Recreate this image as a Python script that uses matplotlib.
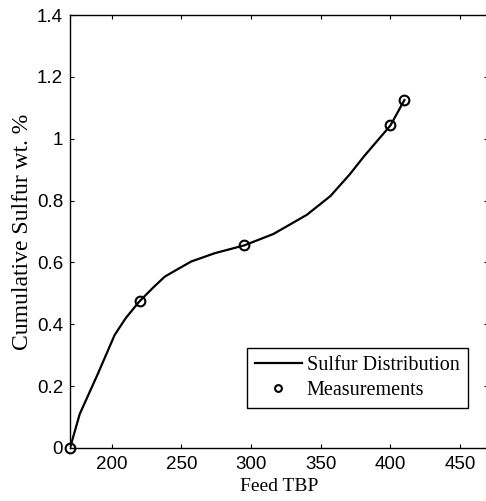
import numpy as np
import matplotlib.pyplot as plt

# sulfur distribution curve
curve_tbp = [170, 177, 190, 202, 210, 220, 230, 238, 248, 257, 274, 295, 316, 340, 357, 371, 381, 400, 410]
curve_sulfur = [0.0, 0.11, 0.24, 0.365, 0.42, 0.475, 0.52, 0.554, 0.58, 0.603, 0.63, 0.655, 0.692, 0.754, 0.815, 0.886, 0.943, 1.043, 1.125]

# measured points
meas_tbp = [170, 220, 295, 400, 410]
meas_sulfur = [0.0, 0.475, 0.655, 1.043, 1.125]

xticks = [200, 250, 300, 350, 400, 450]
yticks = [0, 0.2, 0.4, 0.6, 0.8, 1, 1.2, 1.4]
yticklabels = ['0', '0.2', '0.4', '0.6', '0.8', '1', '1.2', '1.4']

W, H = 486, 501
fig = plt.figure(figsize=(W / 100, H / 100), dpi=100)
ax = fig.add_axes([70 / W, 1 - 448 / H, 418 / W, 433 / H])

ax.plot(curve_tbp, curve_sulfur, color='black', lw=1.6, label='Sulfur Distribution')
ax.plot(meas_tbp, meas_sulfur, linestyle='none', marker='o', ms=7, mfc='none',
        mec='black', mew=1.5, label='Measurements', clip_on=False)

ax.set_xlim(170, 470)
ax.set_ylim(0, 1.4)
ax.set_xticks(xticks)
ax.set_yticks(yticks)
ax.set_yticklabels(yticklabels)
ax.tick_params(direction='in', length=3, width=0.8, top=True, right=True,
               labelsize=13.5)
ax.tick_params(axis='x', pad=5.5)
ax.tick_params(axis='y', pad=5)
for lab in ax.get_xticklabels() + ax.get_yticklabels():
    lab.set_family('Liberation Sans')
for sp in ax.spines.values():
    sp.set_linewidth(1.0)

ax.set_xlabel('Feed TBP', family='Liberation Serif', fontsize=14, labelpad=4)
ax.set_ylabel('Cumulative Sulfur wt. %', family='Liberation Serif', fontsize=17, labelpad=3)

leg = ax.legend(loc='lower right', bbox_to_anchor=(0.9515, 0.0915),
                prop={'family': 'Liberation Serif', 'size': 14.5},
                frameon=True, fancybox=False, edgecolor='black', framealpha=1,
                handlelength=2.35, borderpad=0.4, labelspacing=0.3, handletextpad=0.25,
                borderaxespad=0, markerscale=0.7)
leg.get_frame().set_linewidth(1.0)

fig.savefig('out.png', dpi=100)
